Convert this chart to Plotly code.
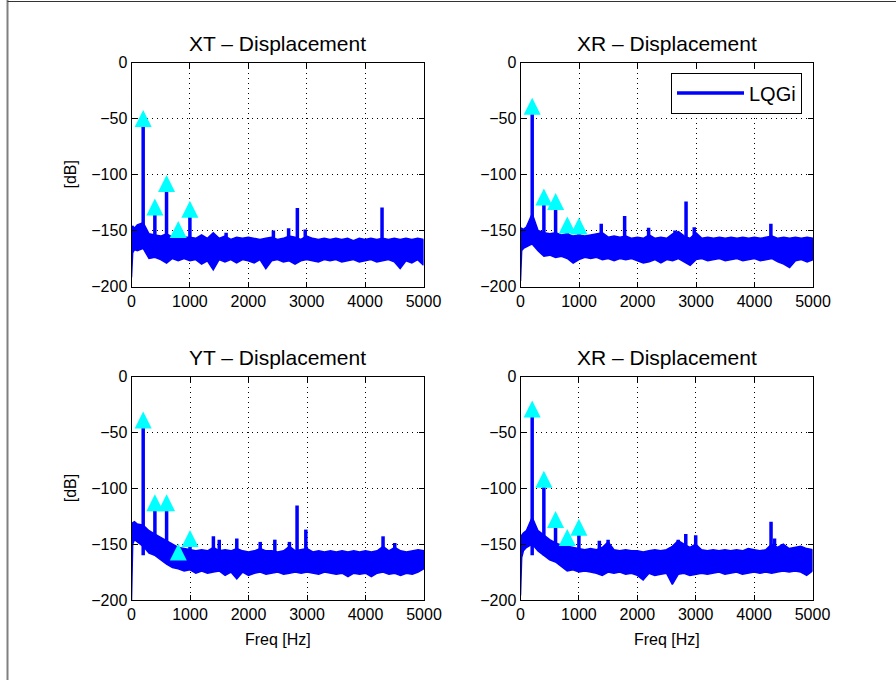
import plotly.graph_objects as go

# ---------------------------------------------------------------------------
# Spectrum data (dB) for the four displacement channels
# ---------------------------------------------------------------------------
freq_grid = [0, 20, 50] + list(range(100, 5001, 100))

harmonic_freqs = [200, 400, 600, 800, 1000]

xt_upper = [-150, -146, -148, -145, -143, -153, -154, -155, -153, -156, -155, -156,
            -156, -157, -154, -157, -152, -157, -155, -158, -156, -157,
            -156, -157, -158, -157, -156, -158, -157, -155, -156, -158,
            -155, -157, -158, -157, -158, -157, -158, -157, -159, -157,
            -158, -157, -158, -157, -158, -157, -158, -157, -158, -157, -158]
xt_lower = [-192, -170, -167, -168, -166, -175, -174, -176, -179, -175, -177, -175,
            -177, -176, -180, -177, -185, -176, -178, -176, -179, -176,
            -177, -179, -176, -184, -177, -176, -178, -177, -180, -177,
            -176, -177, -178, -176, -177, -176, -178, -177, -176, -178,
            -177, -176, -178, -177, -176, -178, -184, -177, -179, -176, -181]
xt_spur_freqs = [1620, 2430, 2690, 2840, 2975, 4290]
xt_spur_peaks = [-152, -150, -148, -130, -149, -129.5]
xt_harmonics = [-50, -129, -108, -149, -131]

xr_upper = [-150, -148, -149, -147, -135, -150, -152, -153, -152, -154, -153, -155,
            -154, -155, -154, -153, -152, -156, -155, -156, -155, -157,
            -156, -157, -154, -157, -156, -157, -153, -151, -155, -157,
            -152, -157, -156, -157, -156, -157, -156, -157, -156, -157,
            -156, -157, -156, -155, -157, -156, -157, -156, -157, -156, -157]
xr_lower = [-195, -168, -166, -165, -162, -168, -173, -172, -174, -173, -175, -179,
            -176, -174, -175, -174, -176, -175, -177, -175, -176, -175,
            -177, -179, -178, -176, -179, -176, -177, -175, -178, -181,
            -176, -175, -177, -176, -175, -177, -176, -175, -177, -176,
            -175, -177, -176, -175, -178, -180, -183, -177, -176, -178, -176]
xr_spur_freqs = [1380, 1780, 2190, 2640, 2830, 2970, 4280]
xr_spur_peaks = [-144, -137, -147.5, -150, -124, -147, -144]
xr_harmonics = [-39, -120, -124, -145, -146]

yt_upper = [-133, -131, -130, -132, -133, -138, -141, -144, -147, -150, -153, -154,
            -155, -156, -155, -156, -153, -156, -155, -156, -154, -156,
            -157, -156, -154, -156, -156, -157, -156, -152, -156, -155,
            -154, -157, -156, -157, -156, -157, -156, -157, -156, -157,
            -156, -157, -156, -152, -156, -153, -156, -157, -156, -155, -156]
yt_lower = [-200, -150, -146, -148, -152, -158, -160, -164, -168, -171, -172, -174,
            -173, -176, -174, -176, -175, -174, -178, -175, -181, -175,
            -178, -176, -175, -177, -176, -175, -177, -176, -175, -176,
            -175, -176, -177, -175, -176, -177, -176, -179, -176, -177,
            -176, -179, -176, -175, -177, -176, -178, -176, -177, -175, -172]
yt_spur_freqs = [1400, 1500, 1800, 2200, 2450, 2700, 2830, 2980, 4300, 4500]
yt_spur_peaks = [-143, -146, -145, -148, -146, -148, -115.5, -137, -143, -149]
yt_harmonics = [-39, -113, -113, -157, -145]

xr2_upper = [-148, -142, -140, -138, -126, -138, -142, -146, -149, -151, -152, -153,
             -154, -155, -154, -155, -153, -148, -155, -156, -155, -156,
             -156, -157, -156, -155, -156, -155, -152, -147, -150, -153,
             -150, -155, -156, -155, -156, -155, -156, -155, -156, -154,
             -155, -156, -155, -150, -153, -150, -154, -153, -152, -154, -155]
xr2_lower = [-196, -162, -156, -153, -150, -156, -160, -164, -166, -170, -174, -173,
             -175, -174, -175, -176, -178, -175, -176, -175, -177, -176,
             -178, -182, -176, -178, -177, -176, -186, -177, -176, -178,
             -177, -176, -177, -176, -175, -177, -176, -175, -177, -176,
             -175, -176, -175, -176, -175, -174, -175, -174, -175, -178, -174]
xr2_spur_freqs = [1350, 1500, 2700, 2830, 3000, 4290, 4350, 4480]
xr2_spur_peaks = [-147, -146, -146, -141, -142, -130, -145, -150]
xr2_harmonics = [-29, -92, -128, -144, -135]

panel_titles = ["XT \u2013 Displacement", "XR \u2013 Displacement",
                "YT \u2013 Displacement", "XR \u2013 Displacement"]
series_name = "LQGi"
floor_db = -160

x_ticks = [0, 1000, 2000, 3000, 4000, 5000]
y_ticks = [0, -50, -100, -150, -200]

# ---------------------------------------------------------------------------
# Figure geometry (pixels) and styling
# ---------------------------------------------------------------------------
W, H = 896, 680
FONT = "Liberation Sans, Arial, Helvetica, sans-serif"
BLUE = "#0000ff"
CYAN = "#00ffff"
MARKER_SIZE = 17

# (left, right, top, bottom) of each axes box in pixels
boxes = [
    (131.5, 423.5, 62.5, 286.5),
    (520.5, 813.0, 62.5, 286.5),
    (131.5, 424.0, 376.5, 600.0),
    (520.5, 812.5, 376.5, 600.0),
]

panels = [
    (xt_upper, xt_lower, xt_spur_freqs, xt_spur_peaks, xt_harmonics),
    (xr_upper, xr_lower, xr_spur_freqs, xr_spur_peaks, xr_harmonics),
    (yt_upper, yt_lower, yt_spur_freqs, yt_spur_peaks, yt_harmonics),
    (xr2_upper, xr2_lower, xr2_spur_freqs, xr2_spur_peaks, xr2_harmonics),
]


def px_x(p):
    return p / W


def px_y(p):
    return 1 - p / H


fig = go.Figure()
annotations = []

for i, ((upper, lower, spur_f, spur_p, harm), box, title) in enumerate(
        zip(panels, boxes, panel_titles)):
    n = "" if i == 0 else str(i + 1)
    xa, ya = "x" + n, "y" + n

    # dense noise floor drawn as a filled band between its envelopes
    fig.add_trace(go.Scatter(
        x=freq_grid + freq_grid[::-1],
        y=upper + lower[::-1],
        mode="lines", fill="toself", fillcolor=BLUE,
        line=dict(color=BLUE, width=1.5),
        xaxis=xa, yaxis=ya, showlegend=False, hoverinfo="skip",
    ))

    # narrow spectral lines (harmonics and spurs)
    sx, sy = [], []
    for f, p in list(zip(harmonic_freqs, harm)) + list(zip(spur_f, spur_p)):
        sx += [f, f, None]
        sy += [floor_db, p, None]
    fig.add_trace(go.Scatter(
        x=sx, y=sy, mode="lines",
        line=dict(color=BLUE, width=3.5),
        name=series_name, showlegend=(i == 0),
        xaxis=xa, yaxis=ya,
    ))

    # harmonic markers: upward triangles centred on each value
    fig.add_trace(go.Scatter(
        x=harmonic_freqs, y=harm, mode="markers",
        marker=dict(symbol="arrow-down", angle=180, standoff=MARKER_SIZE / 2,
                    size=MARKER_SIZE, color=CYAN, line=dict(width=0)),
        xaxis=xa, yaxis=ya, showlegend=False,
    ))

    l, r, t, b = box
    axis_common = dict(
        showline=True, linecolor="black", linewidth=1, mirror="ticks",
        ticks="inside", ticklen=5, tickcolor="black", tickwidth=1,
        showgrid=True, gridcolor="#000000", gridwidth=1, griddash="1px,4px",
        zeroline=False, automargin=False,
        tickfont=dict(family=FONT, size=16, color="black"),
    )
    fig.layout[("xaxis" + n)] = dict(
        axis_common, domain=[px_x(l), px_x(r)], anchor=ya,
        range=[0, 5000], tickvals=x_ticks,
    )
    fig.layout[("yaxis" + n)] = dict(
        axis_common, domain=[px_y(b), px_y(t)], anchor=xa,
        range=[-200, 0], tickvals=y_ticks,
    )

    cx = (l + r) / 2
    annotations.append(dict(
        text=title, x=px_x(cx), y=px_y(t - 19.5), xref="paper", yref="paper",
        xanchor="center", yanchor="middle", showarrow=False,
        font=dict(family=FONT, size=21, color="black"),
    ))
    if i in (0, 2):
        annotations.append(dict(
            text="[dB]", x=px_x(70), y=px_y((t + b) / 2), xref="paper", yref="paper",
            xanchor="center", yanchor="middle", showarrow=False, textangle=-90,
            font=dict(family=FONT, size=16, color="black"),
        ))
    if i in (2, 3):
        annotations.append(dict(
            text="Freq [Hz]", x=px_x(cx), y=px_y(639), xref="paper", yref="paper",
            xanchor="center", yanchor="middle", showarrow=False,
            font=dict(family=FONT, size=16, color="black"),
        ))

fig.update_layout(
    width=W, height=H,
    margin=dict(l=0, r=0, t=0, b=0),
    paper_bgcolor="white", plot_bgcolor="white",
    annotations=annotations,
    showlegend=True,
    legend=dict(
        x=px_x(802), y=px_y(72.5), xanchor="right", yanchor="top",
        bgcolor="white", bordercolor="black", borderwidth=1,
        font=dict(family=FONT, size=20, color="black"),
        itemwidth=67,
    ),
    shapes=[
        dict(type="line", xref="paper", yref="paper",
             x0=px_x(7.5), x1=px_x(7.5), y0=0, y1=1,
             line=dict(color="#808080", width=2)),
        dict(type="line", xref="paper", yref="paper",
             x0=px_x(7.5), x1=1, y0=px_y(1.5), y1=px_y(1.5),
             line=dict(color="#333333", width=1)),
    ],
)

fig.write_html("out.html")
